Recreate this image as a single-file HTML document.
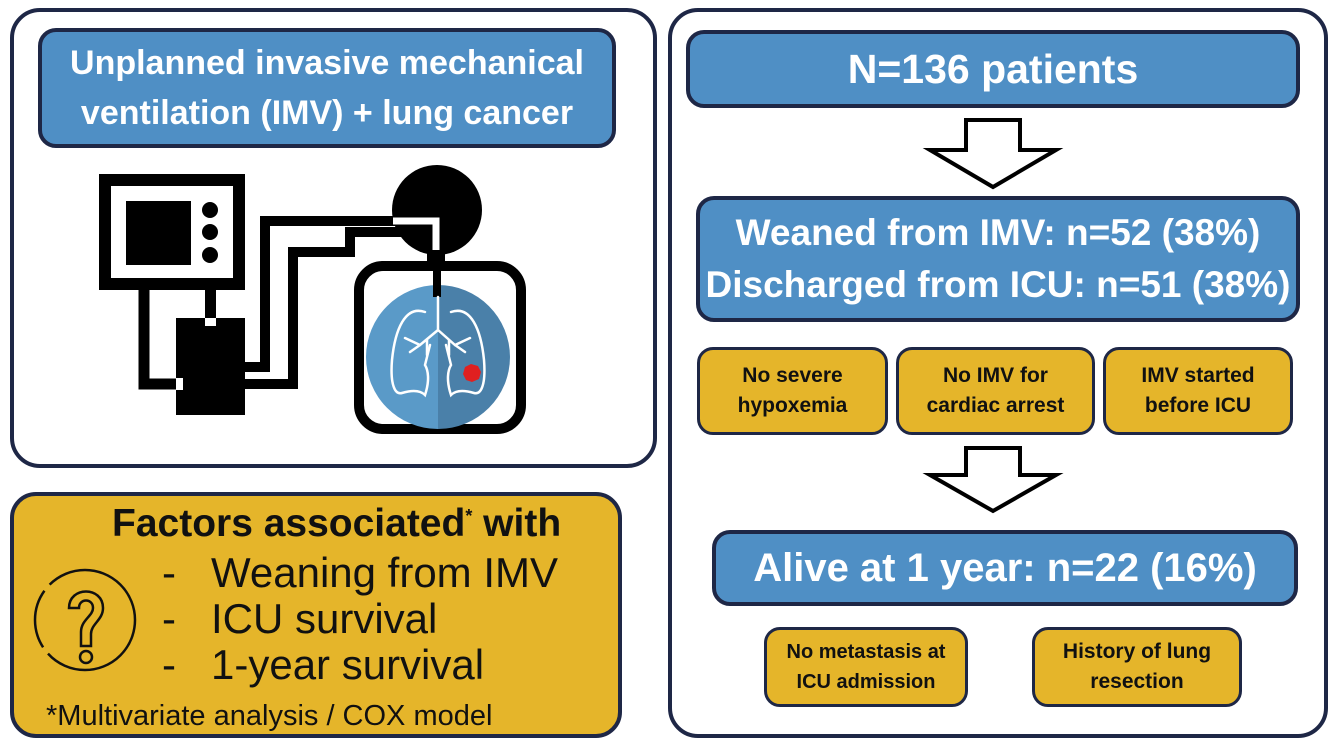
<!DOCTYPE html>
<html><head><meta charset="utf-8"><style>
body{margin:0;width:1333px;height:745px;background:#fff;position:relative;overflow:hidden;font-family:"Liberation Sans",sans-serif;}
.a{position:absolute;box-sizing:border-box;}
.panel{border:4px solid #1e2746;border-radius:30px;background:#fff;}
.blue{background:#4f8fc5;border:4px solid #1e2746;border-radius:18px;color:#fff;font-weight:bold;display:flex;align-items:center;justify-content:center;text-align:center;white-space:nowrap;}
.yel{background:#e5b52a;border:3px solid #1e2746;border-radius:16px;color:#111;font-weight:bold;display:flex;align-items:center;justify-content:center;text-align:center;font-size:21px;line-height:30px;white-space:nowrap;}
</style></head><body>
<div class="a panel" style="left:10px;top:8px;width:647px;height:460px;"></div>
<div class="a blue" style="left:38px;top:28px;width:578px;height:120px;font-size:34px;line-height:50px;">Unplanned invasive mechanical<br>ventilation (IMV) + lung cancer</div>
<svg class="a" style="left:0;top:0" width="660" height="470">
<rect x="105" y="180" width="134" height="104" fill="none" stroke="#000" stroke-width="12"/>
<rect x="126" y="201" width="65" height="64" fill="#000"/>
<circle cx="210" cy="210" r="8"/><circle cx="210" cy="232" r="8"/><circle cx="210" cy="255" r="8"/>
<rect x="176" y="318" width="69" height="97" fill="#000"/>
<rect x="205" y="284" width="11" height="40" fill="#000"/>
<rect x="205" y="318" width="11" height="8" fill="#fff"/>
<polyline points="144,284 144,384 182,384" fill="none" stroke="#000" stroke-width="11"/>
<rect x="176" y="378" width="7" height="12" fill="#fff"/>
<polyline points="245,367 265,367 265,221 440,221 440,262" fill="none" stroke="#000" stroke-width="10"/>
<polyline points="245,384 293,384 293,252 350,252 350,232 432,232 432,262" fill="none" stroke="#000" stroke-width="10"/>
<circle cx="437" cy="210" r="45" fill="#000"/>
<polyline points="393,221 436,221 436,250" fill="none" stroke="#fff" stroke-width="7"/>
<rect x="359" y="266" width="162" height="163" rx="24" fill="#fff" stroke="#000" stroke-width="10"/>
<path d="M438,285 A72,72 0 0,0 438,429 Z" fill="#5a9ac8"/>
<path d="M438,285 A72,72 0 0,1 438,429 Z" fill="#4a80a9"/>
<rect x="433" y="255" width="8" height="42" fill="#000"/>
<g fill="none" stroke="#fff" stroke-width="2.5" stroke-linecap="round">
<path d="M438,297 L438,330 M438,330 L420,345 L405,338 M420,345 L410,352 M438,330 L455,345 L470,338 M455,345 L465,352 M427,340 L427,355 M449,340 L449,355"/>
<path d="M425,312 C405,305 395,330 392,360 C390,385 395,395 402,393 C412,390 420,390 425,395 C430,380 428,370 425,365 L430,345"/>
<path d="M451,312 C471,305 481,330 484,360 C486,385 481,395 474,393 C464,390 456,390 451,395 C446,380 448,370 451,365 L446,345"/>
</g>
<path d="M465,367 l6,-3 7,2 3,6 -2,7 -7,3 -6,-2 -3,-6z" fill="#e02020"/>
</svg>
<div class="a" style="left:10px;top:492px;width:612px;height:246px;background:#e5b52a;border:4px solid #1e2746;border-radius:26px;"></div>
<div class="a" style="left:112px;top:502px;font-size:39px;font-weight:bold;color:#111;white-space:nowrap;">Factors associated<sup style="font-size:18px">*</sup> with</div>
<div class="a" style="left:162px;top:550px;font-size:42px;line-height:46px;color:#111;white-space:pre;">-   Weaning from IMV
-   ICU survival
-   1-year survival</div>
<div class="a" style="left:46px;top:700px;font-size:29px;color:#111;white-space:nowrap;">*Multivariate analysis / COX model</div>
<svg class="a" style="left:27px;top:562px" width="120" height="120">
<circle cx="58" cy="58" r="50" fill="none" stroke="#111" stroke-width="2.5" stroke-dasharray="120 8 60 8 120 8"/>
<path d="M42,46 C42,24 76,24 76,46 C76,58 64,62 64,72 L64,84 L54,84 L54,70 C54,58 66,54 66,46 C66,36 52,36 52,46 Z" fill="none" stroke="#111" stroke-width="2.5"/>
<circle cx="59" cy="95" r="6" fill="none" stroke="#111" stroke-width="2.5"/>
</svg>
<div class="a panel" style="left:668px;top:8px;width:660px;height:730px;"></div>
<div class="a blue" style="left:686px;top:30px;width:614px;height:78px;font-size:41px;">N=136 patients</div>
<svg class="a" style="left:920px;top:115px" width="150" height="80"><polygon points="38,5 92,5 92,35 128,35 65,72 2,35 38,35" fill="#fff" stroke="#000" stroke-width="4" transform="translate(8,0)"/></svg>
<div class="a blue" style="left:696px;top:196px;width:604px;height:126px;font-size:37px;line-height:52px;">Weaned from IMV: n=52 (38%)<br>Discharged from ICU: n=51 (38%)</div>
<div class="a yel" style="left:697px;top:347px;width:191px;height:88px;">No severe<br>hypoxemia</div>
<div class="a yel" style="left:896px;top:347px;width:199px;height:88px;">No IMV for<br>cardiac arrest</div>
<div class="a yel" style="left:1103px;top:347px;width:190px;height:88px;">IMV started<br>before ICU</div>
<svg class="a" style="left:920px;top:443px" width="150" height="75"><polygon points="38,5 92,5 92,32 128,32 65,68 2,32 38,32" fill="#fff" stroke="#000" stroke-width="4" transform="translate(8,0)"/></svg>
<div class="a blue" style="left:712px;top:530px;width:586px;height:76px;font-size:40px;">Alive at 1 year: n=22 (16%)</div>
<div class="a yel" style="left:764px;top:627px;width:204px;height:80px;font-size:20px;">No metastasis at<br>ICU admission</div>
<div class="a yel" style="left:1032px;top:627px;width:210px;height:80px;">History of lung<br>resection</div>
</body></html>
